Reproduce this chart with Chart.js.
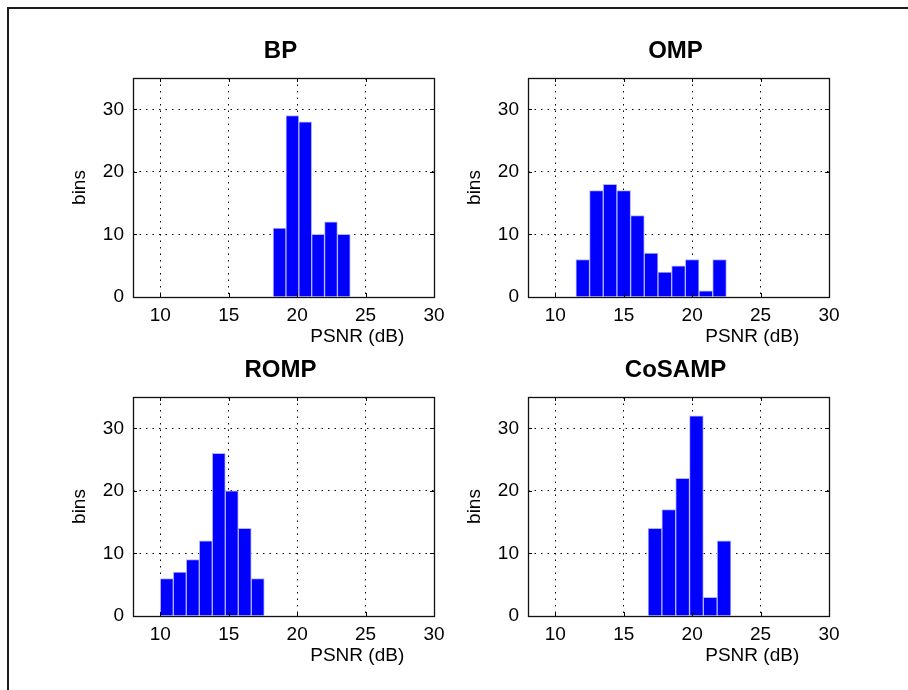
<!DOCTYPE html>
<html>
<head>
<meta charset="utf-8">
<script src="https://cdn.jsdelivr.net/npm/chart.js@4.4.1/dist/chart.umd.min.js"></script>
<style>
  html, body { margin: 0; padding: 0; background: #fff; }
  #fig { position: relative; width: 908px; height: 690px; overflow: hidden; }
  #fig canvas { position: absolute; left: 0; top: 0; }
  #frame { position: absolute; left: 7px; top: 7px; right: 0; bottom: 0;
           border-top: 2px solid #1c1c1c; border-left: 2px solid #1c1c1c; }
</style>
</head>
<body>
<div id="fig">
  <div id="frame"></div>
  <canvas id="bp" width="908" height="690"></canvas>
  <canvas id="omp" width="908" height="690"></canvas>
  <canvas id="romp" width="908" height="690"></canvas>
  <canvas id="cosamp" width="908" height="690"></canvas>
</div>
<script>
// tick labels
const xTicks = [10, 15, 20, 25, 30];
const yTicks = [0, 10, 20, 30];
const xMin = 8, xMax = 30, yMax = 35;

// histogram bins (bin centres, PSNR dB) and counts
const bpCenters = [18.71, 19.65, 20.59, 21.53, 22.47, 23.41];
const bpCounts = [11, 29, 28, 10, 12, 10];

const ompCenters = [12, 13, 14, 15, 16, 17, 18, 19, 20, 21, 22];
const ompCounts = [6, 17, 18, 17, 13, 7, 4, 5, 6, 1, 6];

const rompCenters = [10.47, 11.42, 12.37, 13.32, 14.27, 15.22, 16.17, 17.12];
const rompCounts = [6, 7, 9, 12, 26, 20, 14, 6];

const cosampCenters = [17.28, 18.29, 19.30, 20.31, 21.32, 22.33];
const cosampCounts = [14, 17, 22, 32, 3, 12];

const FONT = '"Liberation Sans", Arial, sans-serif';
const Y_AXIS_W = 60, X_AXIS_H = 35;

// box, inner tick marks, title and axis labels (matlab style)
const axesDecor = {
  id: 'axesDecor',
  afterDatasetsDraw(chart, args, opts) {
    const { ctx, chartArea: a } = chart;
    const x = chart.scales.x, y = chart.scales.y;
    ctx.save();
    ctx.strokeStyle = '#000';
    ctx.lineWidth = 1;
    ctx.beginPath();
    xTicks.forEach(v => {
      const px = Math.round(x.getPixelForValue(v)) + 0.5;
      ctx.moveTo(px, a.bottom); ctx.lineTo(px, a.bottom - 4);
      ctx.moveTo(px, a.top); ctx.lineTo(px, a.top + 4);
    });
    yTicks.forEach(v => {
      const py = Math.round(y.getPixelForValue(v)) + 0.5;
      ctx.moveTo(a.left, py); ctx.lineTo(a.left + 4, py);
      ctx.moveTo(a.right, py); ctx.lineTo(a.right - 4, py);
    });
    ctx.stroke();
    ctx.lineWidth = 1.3;
    ctx.strokeStyle = '#111';
    ctx.strokeRect(a.left + 0.5, a.top + 0.5, a.right - a.left, a.bottom - a.top);

    ctx.fillStyle = '#000';
    ctx.textAlign = 'center';
    ctx.textBaseline = 'middle';
    ctx.font = 'bold 24px ' + FONT;
    ctx.fillText(opts.title, (a.left + a.right) / 2 - 3, a.top - 27);

    ctx.font = '19px ' + FONT;
    ctx.fillText('PSNR (dB)', a.left + 0.745 * (a.right - a.left), a.bottom + 40);

    ctx.translate(a.left - 53, (a.top + a.bottom) / 2);
    ctx.rotate(-Math.PI / 2);
    ctx.fillText('bins', 0, 0);
    ctx.restore();
  }
};

function makeHist(id, title, centers, counts, pad) {
  const points = centers.map((c, i) => ({ x: c, y: counts[i] }));
  return new Chart(document.getElementById(id), {
    type: 'bar',
    data: {
      datasets: [{
        data: points,
        backgroundColor: '#0000ff',
        borderColor: '#b4b4ff',
        borderWidth: 1,
        barPercentage: 1,
        categoryPercentage: 1
      }]
    },
    options: {
      responsive: false,
      animation: false,
      events: [],
      layout: { padding: pad },
      plugins: {
        legend: { display: false },
        tooltip: { enabled: false },
        axesDecor: { title: title }
      },
      scales: {
        x: {
          type: 'linear',
          min: xMin,
          max: xMax,
          offset: false,
          afterBuildTicks: s => { s.ticks = xTicks.map(v => ({ value: v })); },
          afterFit: s => { s.height = X_AXIS_H; s.paddingLeft = 0; s.paddingRight = 0; },
          grid: { offset: false, color: '#000', lineWidth: 1, drawTicks: false },
          border: { display: false, dash: [1.5, 5] },
          ticks: { padding: 7, color: '#000', maxRotation: 0, autoSkip: false,
                   font: { family: FONT, size: 19 } }
        },
        y: {
          type: 'linear',
          min: 0,
          max: yMax,
          afterBuildTicks: s => { s.ticks = yTicks.map(v => ({ value: v })); },
          afterFit: s => { s.width = Y_AXIS_W; s.paddingTop = 0; s.paddingBottom = 0; },
          grid: { color: '#000', lineWidth: 1, drawTicks: false },
          border: { display: false, dash: [1.5, 5] },
          ticks: { padding: 9, color: '#000',
                   font: { family: FONT, size: 19 } }
        }
      }
    },
    plugins: [axesDecor]
  });
}

makeHist('bp', 'BP', bpCenters, bpCounts, { left: 73, top: 78, right: 474, bottom: 358 });
makeHist('omp', 'OMP', ompCenters, ompCounts, { left: 468, top: 78, right: 79, bottom: 358 });
makeHist('romp', 'ROMP', rompCenters, rompCounts, { left: 73, top: 397, right: 474, bottom: 39 });
makeHist('cosamp', 'CoSAMP', cosampCenters, cosampCounts, { left: 468, top: 397, right: 79, bottom: 39 });
</script>
</body>
</html>
